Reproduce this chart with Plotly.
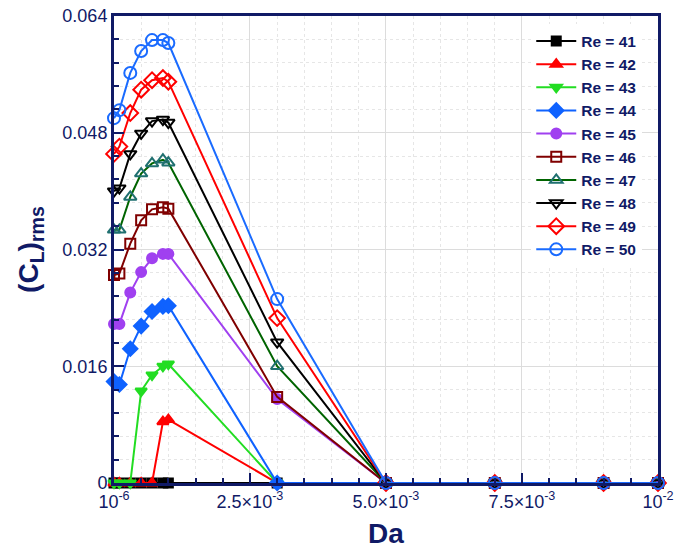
import plotly.graph_objects as go
import numpy as np

# ---------------- data ----------------
da = [1e-6, 1e-4, 3e-4, 5e-4, 7e-4, 9e-4, 1e-3, 3e-3, 5e-3, 7e-3, 9e-3, 1e-2]
re_labels = ["Re = 41", "Re = 42", "Re = 43", "Re = 44", "Re = 45",
             "Re = 46", "Re = 47", "Re = 48", "Re = 49", "Re = 50"]

cl_re41 = [0, 0, 0, 0, 0, 0, 0, 0, 0, 0, 0, 0]
cl_re42 = [0, 0, 0, 0, 0, 0.0084, 0.0087, 0, 0, 0, 0, 0]
cl_re43 = [0, 0, 0, 0.0126, 0.0148, 0.0160, 0.0163, 0, 0, 0, 0, 0]
cl_re44 = [0.0139, 0.0135, 0.0184, 0.0215, 0.0235, 0.0242, 0.0243, 0, 0, 0, 0, 0]
cl_re45 = [0.0218, 0.0218, 0.0261, 0.0289, 0.0308, 0.0314, 0.0314, 0.0115, 0, 0, 0, 0]
cl_re46 = [0.0285, 0.0287, 0.0328, 0.0360, 0.0375, 0.0378, 0.0376, 0.0118, 0, 0, 0, 0]
cl_re47 = [0.0347, 0.0347, 0.0392, 0.0424, 0.0438, 0.0443, 0.0439, 0.0160, 0, 0, 0, 0]
cl_re48 = [0.0400, 0.0404, 0.0451, 0.0479, 0.0496, 0.0498, 0.0494, 0.0193, 0, 0, 0, 0]
cl_re49 = [0.0451, 0.0461, 0.0507, 0.0539, 0.0552, 0.0555, 0.0550, 0.0226, 0, 0, 0, 0]
cl_re50 = [0.0500, 0.0511, 0.0562, 0.0592, 0.0607, 0.0607, 0.0603, 0.0252, 0, 0, 0, 0]

series = [cl_re41, cl_re42, cl_re43, cl_re44, cl_re45,
          cl_re46, cl_re47, cl_re48, cl_re49, cl_re50]

x_tickvals = [1e-6, 2.5e-3, 5e-3, 7.5e-3, 1e-2]
x_ticktext = ["10<sup>-6</sup>", "2.5×10<sup>-3</sup>", "5.0×10<sup>-3</sup>",
              "7.5×10<sup>-3</sup>", "10<sup>-2</sup>"]
y_tickvals = [0, 0.016, 0.032, 0.048, 0.064]
y_ticktext = ["0", "0.016", "0.032", "0.048", "0.064"]

# ---------------- styles ----------------
line_colors = ["#000000", "#ff0000", "#22dd22", "#0f62ff", "#a040f0",
               "#800000", "#006400", "#000000", "#ff0000", "#1a6bff"]
marker_colors = ["#000000", "#ff0000", "#22dd22", "#0f62ff", "#a040f0",
                 "#800000", "#1f7070", "#000000", "#ff0000", "#1a6bff"]
symbols = ["square", "triangle-up", "triangle-down", "diamond", "circle",
           "square-open", "triangle-up-open", "triangle-down-open",
           "diamond-open", "circle-open"]
sizes = [9, 10, 10, 11, 10, 10, 11, 11, 12, 12]

navy = "#101a66"
font_fam = "Liberation Sans, Arial, Helvetica, sans-serif"

fig = go.Figure()
for lab, vals, lc, mc, sym, sz in zip(re_labels, series, line_colors,
                                      marker_colors, symbols, sizes):
    fig.add_trace(go.Scatter(
        x=da, y=vals, name=lab, mode="lines+markers",
        line=dict(color=lc, width=2),
        marker=dict(symbol=sym, size=sz, color=mc,
                    line=dict(color=mc, width=2)),
        cliponaxis=False,
    ))

x_minor = [v for v in np.arange(0.0005, 0.01, 0.0005)
           if abs(v / 0.0025 - round(v / 0.0025)) > 1e-6]
y_minor = [v for v in np.arange(0.0032, 0.064, 0.0032)
           if abs(v / 0.016 - round(v / 0.016)) > 1e-6]

# page body has an 8px default margin, so the figure is 8px smaller
fig.update_layout(
    width=677, height=541,
    margin=dict(l=106, r=27, t=8, b=66, autoexpand=False),
    paper_bgcolor="white", plot_bgcolor="white",
    font=dict(family=font_fam, color=navy, size=18),
    showlegend=True,
    legend=dict(
        x=0.767, y=0.982, xanchor="left", yanchor="top",
        bgcolor="white", borderwidth=0,
        font=dict(family=font_fam, size=15.5, color=navy, weight="bold"),
        itemwidth=40, tracegroupgap=0,
    ),
)

fig.update_xaxes(
    range=[1e-6, 1e-2], automargin=False, ticklabeloverflow="allow",
    tickmode="array", tickvals=x_tickvals, ticktext=x_ticktext,
    ticks="inside", ticklen=10, tickwidth=2, tickcolor=navy,
    showline=True, linewidth=3, linecolor=navy, mirror=True,
    showgrid=True, gridcolor="#dcdcdc", gridwidth=1,
    zeroline=False,
    tickfont=dict(size=18, color=navy, family=font_fam),
    minor=dict(tickmode="array", tickvals=x_minor, ticks="inside", ticklen=5,
               tickwidth=1.5, tickcolor=navy, showgrid=True,
               gridcolor="#e6e6e6", griddash="dot", gridwidth=1),
    title=dict(text="<b>Da</b>", font=dict(size=28, color=navy, family=font_fam),
               standoff=14),
)
fig.update_yaxes(
    range=[0, 0.064], automargin=False, ticklabeloverflow="allow",
    tickmode="array", tickvals=y_tickvals, ticktext=y_ticktext,
    ticks="inside", ticklen=10, tickwidth=2, tickcolor=navy,
    showline=True, linewidth=3, linecolor=navy, mirror=True,
    showgrid=True, gridcolor="#dcdcdc", gridwidth=1,
    zeroline=False,
    tickfont=dict(size=18, color=navy, family=font_fam),
    minor=dict(tickmode="array", tickvals=y_minor, ticks="inside", ticklen=5,
               tickwidth=1.5, tickcolor=navy, showgrid=True,
               gridcolor="#e6e6e6", griddash="dot", gridwidth=1),
    title=dict(text="<b>(C<sub>L</sub>)<sub>rms</sub></b>",
               font=dict(size=28, color=navy, family=font_fam), standoff=16),
)

fig.write_html("out.html")
